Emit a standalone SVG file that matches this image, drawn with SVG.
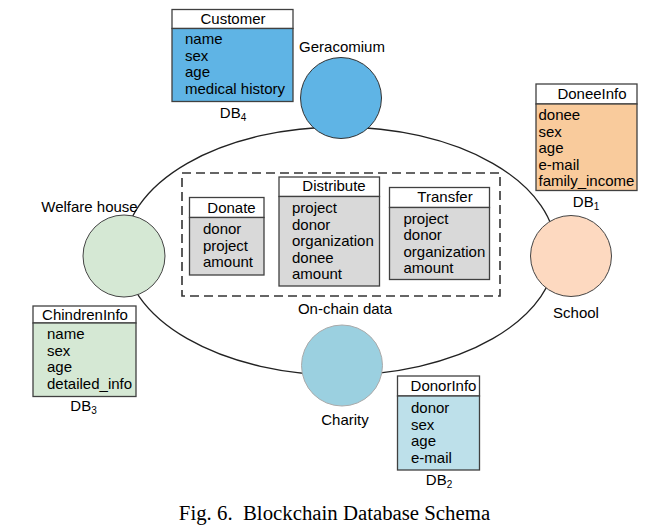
<svg xmlns="http://www.w3.org/2000/svg" width="660" height="529" viewBox="0 0 660 529">
<style>
.t{font-family:"Liberation Sans",Arial,sans-serif;font-size:15px;fill:#000}
.h{font-family:"Liberation Sans",Arial,sans-serif;font-size:15px;fill:#000;text-anchor:middle}
.lbl{font-family:"Liberation Sans",Arial,sans-serif;font-size:15px;fill:#000;text-anchor:middle}
.hd{fill:#fff;stroke:#404040;stroke-width:1.3}
.bd{stroke:#404040;stroke-width:1.3}
.cap{font-family:"Liberation Serif","Times New Roman",serif;font-size:20.8px;fill:#000;text-anchor:middle}
</style>
<rect width="660" height="529" fill="#fff"/>
<g id="connectors">
<ellipse cx="340" cy="251" rx="216" ry="124" fill="none" stroke="#222" stroke-width="1.3"/>
</g>
<g id="onchain">
<rect x="182" y="173" width="318" height="123" fill="none" stroke="#333" stroke-width="1.6" stroke-dasharray="9,5"/>
<text class="lbl" x="345" y="314">On-chain data</text>
</g>
<g id="donate">
<rect class="hd" x="189.5" y="197.5" width="74.5" height="20"/>
<rect class="bd" x="189.5" y="217.5" width="74.5" height="57.5" fill="#d9d9d9"/>
<text class="h" x="231.5" y="213">Donate</text>
<text class="t" x="203" y="234">donor</text>
<text class="t" x="203" y="250.5">project</text>
<text class="t" x="203" y="267">amount</text>
</g>
<g id="distribute">
<rect class="hd" x="279" y="177" width="100.5" height="19.5"/>
<rect class="bd" x="279" y="196.5" width="100.5" height="89.5" fill="#d9d9d9"/>
<text class="h" x="334" y="191">Distribute</text>
<text class="t" x="292" y="213">project</text>
<text class="t" x="292" y="229.5">donor</text>
<text class="t" x="292" y="246">organization</text>
<text class="t" x="292" y="262.5">donee</text>
<text class="t" x="292" y="279">amount</text>
</g>
<g id="transfer">
<rect class="hd" x="389.5" y="187.5" width="100" height="20"/>
<rect class="bd" x="389.5" y="207.5" width="100" height="72" fill="#d9d9d9"/>
<text class="h" x="445" y="202">Transfer</text>
<text class="t" x="403.5" y="223.5">project</text>
<text class="t" x="403.5" y="240">donor</text>
<text class="t" x="403.5" y="256.5">organization</text>
<text class="t" x="403.5" y="273">amount</text>
</g>
<g id="geracomium">
<circle cx="341" cy="98" r="40.5" fill="#5fb4e5" stroke="#333" stroke-width="1"/>
<text class="lbl" x="342" y="52">Geracomium</text>
</g>
<g id="customer">
<rect class="hd" x="172" y="9.5" width="121" height="19"/>
<rect class="bd" x="172" y="28.5" width="121" height="73" fill="#5fb4e5"/>
<text class="h" x="233" y="23.5">Customer</text>
<text class="t" x="185" y="44">name</text>
<text class="t" x="185" y="60.5">sex</text>
<text class="t" x="185" y="77">age</text>
<text class="t" x="185" y="93.5">medical history</text>
<text class="lbl" x="233" y="118">DB<tspan font-size="10" dy="3">4</tspan></text>
</g>
<g id="school">
<circle cx="571" cy="256" r="40.5" fill="#fdd9c0" stroke="#444" stroke-width="1"/>
<text class="lbl" x="576" y="318">School</text>
</g>
<g id="doneeinfo">
<rect class="hd" x="536" y="84" width="101" height="20"/>
<rect class="bd" x="536" y="104" width="101" height="86.5" fill="#f9cb9c"/>
<text class="h" x="592" y="99">DoneeInfo</text>
<text class="t" x="538.5" y="120">donee</text>
<text class="t" x="538.5" y="136.5">sex</text>
<text class="t" x="538.5" y="153">age</text>
<text class="t" x="538.5" y="169.5">e-mail</text>
<text class="t" x="538.5" y="186">family_income</text>
<text class="lbl" x="586" y="207">DB<tspan font-size="10" dy="3">1</tspan></text>
</g>
<g id="welfare">
<circle cx="124" cy="256" r="41" fill="#d5e8d4" stroke="#444" stroke-width="1"/>
<text class="lbl" x="89.5" y="212">Welfare house</text>
</g>
<g id="chindreninfo">
<rect class="hd" x="33" y="306" width="103" height="17"/>
<rect class="bd" x="33" y="323" width="103" height="73.5" fill="#d5e8d4"/>
<text class="h" x="85" y="320">ChindrenInfo</text>
<text class="t" x="47" y="339">name</text>
<text class="t" x="47" y="355.5">sex</text>
<text class="t" x="47" y="372">age</text>
<text class="t" x="47" y="388.5">detailed_info</text>
<text class="lbl" x="83.5" y="411">DB<tspan font-size="10" dy="3">3</tspan></text>
</g>
<g id="charity">
<circle cx="342" cy="365.5" r="40.5" fill="#9bd0e0" stroke="#aaa" stroke-width="1"/>
<text class="lbl" x="345" y="425">Charity</text>
</g>
<g id="donorinfo">
<rect class="hd" x="397.5" y="376" width="82" height="20"/>
<rect class="bd" x="397.5" y="396" width="82" height="74" fill="#bde0ea"/>
<text class="h" x="443.5" y="391">DonorInfo</text>
<text class="t" x="411" y="413">donor</text>
<text class="t" x="411" y="429.5">sex</text>
<text class="t" x="411" y="446">age</text>
<text class="t" x="411" y="462.5">e-mail</text>
<text class="lbl" x="439" y="484.5">DB<tspan font-size="10" dy="3">2</tspan></text>
</g>
<text class="cap" x="334.5" y="520" xml:space="preserve">Fig. 6.  Blockchain Database Schema</text>
</svg>
